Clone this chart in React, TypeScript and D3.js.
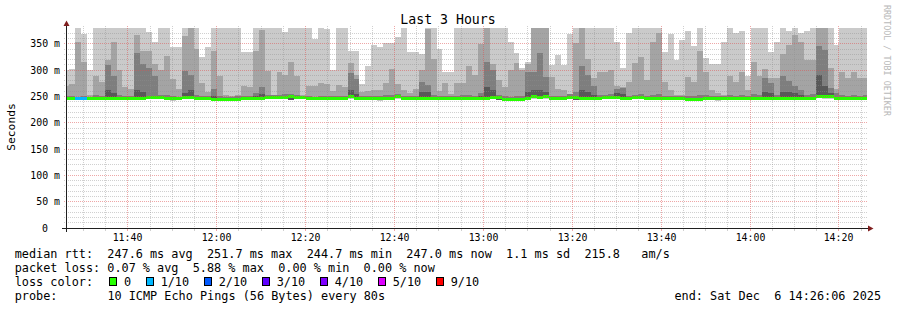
import React from 'react';
import * as d3 from 'd3';

// ---------- data (Smokeping: 10 ICMP pings every 80 s, sorted ping values per step) ----------
const FIRST_STEP = new Date(2025, 11, 6, 11, 25, 28);
const STEP_SEC = 80;
const START = new Date(2025, 11, 6, 11, 26, 6);
const END = new Date(2025, 11, 6, 14, 26, 6);
const Y_MAX = 380;

// slowest ping (p10)
const maxRtt = [
  300, 303, 390, 369, 300, 390, 390, 390, 390, 390,
  390, 390, 390, 390, 372, 354, 390, 390, 343, 343,
  390, 390, 390, 325, 343, 390, 390, 390, 390, 390,
  335, 335, 390, 390, 390, 390, 390, 372, 390, 390,
  390, 390, 360, 390, 379, 300, 390, 390, 337, 337,
  273, 308, 347, 343, 351, 351, 362, 390, 335, 335,
  330, 390, 390, 340, 296, 296, 390, 390, 390, 390,
  390, 390, 390, 390, 390, 354, 333, 304, 316, 390,
  390, 390, 309, 329, 309, 369, 390, 390, 390, 390,
  390, 390, 390, 354, 304, 370, 390, 390, 390, 390,
  390, 335, 369, 320, 357, 375, 345, 390, 323, 312,
  312, 354, 390, 370, 375, 288, 390, 390, 390, 335,
  354, 390, 375, 390, 370, 375, 390, 390, 390, 390,
  348, 390, 390, 390, 390, 390,
];
// 9th ping
const rtt9 = [
  270, 273, 354, 315, 252, 288, 277, 320, 354, 300,
  267, 264, 367, 337, 337, 311, 300, 327, 284, 264,
  364, 390, 340, 275, 259, 337, 288, 253, 251, 253,
  269, 267, 337, 377, 299, 252, 297, 290, 316, 288,
  252, 270, 269, 276, 274, 260, 271, 268, 313, 290,
  258, 260, 262, 262, 276, 303, 273, 263, 256, 264,
  300, 378, 322, 260, 275, 255, 275, 275, 308, 290,
  350, 390, 312, 282, 267, 300, 314, 300, 311, 390,
  390, 390, 286, 265, 263, 255, 352, 390, 322, 285,
  297, 297, 300, 270, 268, 278, 313, 324, 282, 354,
  370, 278, 262, 253, 253, 286, 278, 337, 296, 262,
  256, 253, 289, 278, 297, 262, 316, 288, 302, 285,
  285, 331, 348, 367, 354, 320, 320, 390, 390, 304,
  264, 296, 285, 296, 285, 285,
];
// 8th ping
const rtt8 = [
  250, 250, 249, 251, 249, 252, 251, 309, 288, 252,
  250, 251, 333, 311, 304, 288, 253, 252, 250, 249,
  299, 291, 252, 251, 250, 264, 250, 249, 249, 250,
  251, 250, 256, 267, 253, 252, 253, 254, 255, 252,
  251, 250, 249, 251, 250, 250, 251, 251, 294, 283,
  250, 250, 251, 250, 252, 253, 254, 251, 250, 251,
  278, 272, 253, 250, 251, 250, 251, 252, 253, 251,
  256, 316, 300, 253, 250, 249, 250, 251, 297, 297,
  333, 286, 251, 250, 250, 254, 258, 307, 291, 269,
  252, 253, 255, 265, 266, 251, 253, 254, 251, 252,
  254, 251, 250, 250, 250, 251, 250, 253, 252, 250,
  250, 250, 252, 251, 253, 251, 254, 253, 285, 275,
  252, 288, 280, 269, 263, 253, 254, 345, 338, 266,
  256, 252, 251, 252, 251, 252,
];
// 7th ping
const rtt7 = [
  248, 248, 248, 248, 248, 248, 248, 262, 256, 248,
  248, 248, 262, 258, 251, 250, 250, 248, 248, 248,
  256, 262, 248, 248, 248, 250, 247, 247, 247, 247,
  248, 248, 250, 255, 251, 251, 250, 251, 251, 250,
  249, 248, 248, 248, 248, 248, 248, 249, 262, 255,
  248, 248, 248, 248, 248, 249, 251, 248, 248, 248,
  258, 258, 248, 248, 248, 248, 248, 248, 249, 248,
  250, 268, 262, 250, 247, 246, 246, 247, 258, 262,
  262, 258, 248, 248, 248, 251, 251, 262, 258, 252,
  248, 250, 251, 256, 255, 248, 251, 250, 248, 248,
  249, 248, 248, 248, 248, 247, 246, 247, 248, 248,
  248, 248, 249, 248, 248, 248, 249, 249, 258, 256,
  249, 258, 258, 256, 253, 249, 249, 291, 270, 256,
  249, 248, 248, 248, 248, 248,
];
// median rtt
const medianRtt = [
  247.2, 247.0, 246.8, 247.1, 247.3, 246.9, 247.0, 247.2, 247.5, 247.1,
  246.8, 247.4, 247.9, 247.6, 249.3, 249.0, 248.7, 247.6, 246.4, 247.0,
  249.0, 248.8, 247.5, 247.2, 247.0, 245.6, 245.2, 244.9, 245.3, 245.8,
  246.8, 247.1, 247.5, 247.9, 249.2, 249.6, 248.9, 249.4, 250.1, 249.0,
  248.6, 247.4, 247.0, 247.3, 246.9, 247.1, 247.6, 247.8, 250.2, 247.5,
  247.0, 246.8, 247.2, 246.6, 247.3, 247.1, 250.0, 247.4, 247.0, 246.7,
  247.6, 247.9, 247.3, 247.0, 246.8, 247.2, 247.5, 247.1, 246.9, 247.3,
  247.6, 247.8, 249.1, 248.8, 245.9, 245.3, 245.0, 245.5, 246.1, 250.0,
  249.8, 250.4, 247.4, 247.0, 247.2, 249.5, 249.2, 247.6, 247.3, 246.9,
  247.2, 249.0, 249.3, 248.7, 247.4, 247.1, 249.6, 249.2, 247.5, 247.0,
  247.3, 247.6, 246.9, 247.1, 247.4, 245.3, 244.7, 245.1, 247.0, 247.4,
  246.8, 247.1, 247.5, 246.9, 247.2, 247.6, 247.0, 247.3, 247.8, 247.1,
  246.9, 247.4, 247.2, 247.6, 247.0, 247.3, 247.5, 251.7, 251.2, 250.3,
  247.4, 247.1, 247.3, 247.0, 247.2, 247.0,
];
// 4th ping
const rtt4 = [
  246.2, 246.0, 245.8, 246.1, 246.3, 245.9, 246.0, 246.2, 246.5, 246.1,
  245.8, 246.4, 246.9, 246.6, 248.3, 248.0, 247.7, 246.6, 242.6, 243.4,
  248.0, 247.8, 246.5, 246.2, 246.0, 244.6, 244.2, 242.3, 244.3, 244.8,
  245.8, 246.1, 246.5, 246.9, 248.2, 248.6, 247.9, 248.4, 243.0, 248.0,
  247.6, 246.4, 246.0, 246.3, 245.9, 246.1, 246.6, 246.8, 249.2, 246.5,
  246.0, 245.8, 246.2, 242.4, 246.3, 246.1, 249.0, 246.4, 246.0, 245.7,
  246.6, 246.9, 246.3, 246.0, 245.8, 246.2, 246.5, 246.1, 245.9, 246.3,
  246.6, 246.8, 248.1, 242.9, 244.9, 244.3, 244.0, 244.5, 245.1, 249.0,
  248.8, 249.4, 246.4, 246.0, 246.2, 248.5, 243.1, 246.6, 246.3, 245.9,
  246.2, 248.0, 248.3, 247.7, 246.4, 246.1, 248.6, 248.2, 246.5, 246.0,
  246.3, 246.6, 245.9, 246.1, 246.4, 244.3, 243.7, 244.1, 246.0, 246.4,
  242.4, 246.1, 246.5, 242.8, 243.2, 246.6, 246.0, 246.3, 246.8, 246.1,
  245.9, 246.4, 246.2, 246.6, 246.0, 246.3, 246.5, 247.0, 246.5, 249.3,
  246.4, 246.1, 246.3, 246.0, 246.2, 246.0,
];
// 2nd ping
const rtt2 = [
  245.4, 245.2, 244.9, 245.1, 245.6, 245.3, 245.1, 245.5, 245.8, 245.2,
  245.0, 245.4, 245.9, 245.4, 246.4, 246.1, 245.8, 244.9, 243.5, 244.0,
  246.1, 246.2, 245.4, 245.1, 244.9, 243.9, 243.4, 243.0, 243.6, 244.1,
  244.9, 245.2, 245.5, 245.8, 246.5, 246.7, 246.1, 246.5, 243.8, 246.0,
  245.8, 245.2, 245.0, 245.4, 244.9, 245.1, 245.6, 245.9, 247.4, 245.3,
  245.1, 244.8, 245.2, 243.3, 245.3, 245.0, 247.0, 245.4, 244.8, 244.6,
  245.3, 245.7, 245.2, 244.9, 244.6, 245.1, 245.5, 245.0, 244.8, 245.2,
  245.5, 245.8, 247.0, 243.6, 244.0, 243.6, 243.2, 243.8, 244.3, 247.1,
  246.9, 247.3, 245.3, 244.9, 245.2, 246.6, 243.6, 245.4, 245.0, 244.7,
  245.1, 246.9, 247.1, 246.4, 245.2, 245.0, 247.1, 246.8, 245.4, 245.0,
  245.2, 245.5, 244.8, 245.1, 245.3, 243.6, 243.0, 243.5, 244.9, 245.3,
  243.3, 245.0, 245.3, 243.6, 243.9, 245.4, 244.9, 245.2, 245.6, 245.0,
  244.8, 245.3, 245.1, 245.5, 244.9, 245.2, 245.4, 248.0, 247.6, 246.8,
  245.3, 245.0, 245.2, 244.9, 245.1, 245.0,
];
// fastest ping (p1)
const minRtt = [
  244.2, 244.0, 243.6, 243.8, 244.4, 244.1, 243.9, 244.3, 244.5, 244.0,
  243.8, 244.2, 244.6, 244.1, 244.8, 244.5, 244.3, 243.5, 242.2, 242.8,
  244.6, 244.9, 244.2, 243.9, 243.7, 242.6, 242.2, 241.8, 242.4, 242.9,
  243.7, 244.0, 244.3, 244.5, 245.0, 245.3, 244.8, 245.1, 242.5, 244.6,
  244.4, 244.0, 243.8, 244.2, 243.6, 243.9, 244.4, 244.6, 245.6, 244.1,
  243.9, 243.5, 244.0, 242.0, 244.1, 243.8, 245.4, 244.2, 243.6, 243.4,
  244.1, 244.5, 244.0, 243.7, 243.4, 243.9, 244.3, 243.8, 243.6, 244.0,
  244.3, 244.6, 245.5, 242.4, 242.8, 242.4, 241.9, 242.5, 243.1, 245.4,
  245.1, 245.5, 244.1, 243.7, 244.0, 244.9, 242.3, 244.2, 243.8, 243.5,
  243.9, 245.3, 245.6, 244.9, 244.0, 243.8, 245.4, 245.1, 244.2, 243.8,
  244.0, 244.3, 243.6, 243.9, 244.1, 242.3, 241.8, 242.2, 243.7, 244.1,
  242.0, 243.8, 244.1, 242.3, 242.6, 244.2, 243.7, 244.0, 244.4, 243.8,
  243.6, 244.1, 243.9, 244.3, 243.7, 244.0, 244.2, 246.4, 246.0, 245.3,
  244.1, 243.8, 244.0, 243.7, 243.9, 243.8,
];
// lost pings per step (of 10)
const lossCount = [
  0, 0, 1, 1, 0, 0, 0, 0, 0, 0, 0, 0, 0, 0, 0, 0, 0, 0, 0, 0,
  0, 0, 0, 0, 0, 0, 0, 0, 0, 0, 0, 0, 0, 0, 0, 0, 0, 0, 0, 0,
  0, 0, 0, 0, 0, 0, 0, 0, 0, 0, 0, 0, 0, 0, 0, 0, 0, 0, 0, 0,
  0, 0, 0, 0, 0, 0, 0, 0, 0, 0, 0, 0, 0, 0, 0, 0, 0, 0, 0, 0,
  0, 0, 0, 0, 0, 0, 0, 0, 0, 0, 0, 0, 0, 0, 0, 0, 0, 0, 0, 0,
  0, 0, 0, 0, 0, 0, 0, 0, 0, 0, 0, 0, 0, 0, 0, 0, 0, 0, 0, 0,
  0, 0, 0, 0, 0, 0, 0, 0, 0, 0, 0, 0, 0, 0, 0, 0,
];

const lossThresholds = [0, 1, 2, 3, 4, 5, 9];
const lossLabels = ['0', '1/10', '2/10', '3/10', '4/10', '5/10', '9/10'];
const lossColors = ['#26ff00', '#00b8ff', '#0059ff', '#5e00ff', '#7e00ff', '#dd00ff', '#ff0000'];

const yTickValues = [0, 50, 100, 150, 200, 250, 300, 350];
const yTickLabels = ['0', '50 m', '100 m', '150 m', '200 m', '250 m', '300 m', '350 m'];
const xTickLabels = ['11:40', '12:00', '12:20', '12:40', '13:00', '13:20', '13:40', '14:00', '14:20'];

const title = 'Last 3 Hours';
const yTitle = 'Seconds';
const legendRows = [
  'median rtt:  247.6 ms avg  251.7 ms max  244.7 ms min  247.0 ms now  1.1 ms sd  215.8   am/s',
  'packet loss: 0.07 % avg  5.88 % max  0.00 % min  0.00 % now',
];
const lossLegendTitle = 'loss color:';
const probeLabel = 'probe:';
const probeText = '10 ICMP Echo Pings (56 Bytes) every 80s';
const endText = 'end: Sat Dec  6 14:26:06 2025';
const watermark = 'RRDTOOL / TOBI OETIKER';

// smoke shades: [low series, high series, colour]
const smokeLayers: [number[], number[], string][] = [
  [minRtt, maxRtt, '#cacaca'],
  [rtt2, rtt9, '#a4a4a4'],
  [rtt4, rtt8, '#7e7e7e'],
  [rtt4, rtt7, '#585858'],
];

const FONT = "'DejaVu Sans Mono', monospace";
const X0 = 66, X1 = 866, Y0 = 228, Y1 = 28;
const CH = 7.13; // legend char advance

function lossColor(n: number) {
  let idx = 0;
  lossThresholds.forEach((t, i) => { if (n >= t) idx = i; });
  return lossColors[idx];
}

export default function App() {
  const x = d3.scaleTime().domain([START, END]).range([X0, X1]);
  const y = d3.scaleLinear().domain([0, Y_MAX]).range([Y0, Y1]);

  const stepEdges = d3.range(maxRtt.length + 1).map(i =>
    Math.round(x(new Date(FIRST_STEP.getTime() + i * STEP_SEC * 1000))));

  const minorColor = 'rgba(143,143,143,0.42)';
  const majorColor = 'rgba(222,79,79,0.5)';

  // grid
  const hMinor = d3.range(10, Y_MAX, 10).filter(v => v % 50 !== 0);
  const hMajor = yTickValues.filter(v => v > 0);
  const t5 = d3.timeMinute.every(5)!.range(START, END);
  const vMinor = t5.filter(t => t.getMinutes() % 20 !== 0);
  const vMajor = t5.filter(t => t.getMinutes() % 20 === 0);

  const py = (v: number) => Math.floor(y(v)) + 0.5;
  const px = (t: Date) => Math.floor(x(t)) + 0.5;

  // legend boxes layout
  let bx = 109;
  const lossItems = lossLabels.map((lab, i) => {
    const item = { bx, tx: bx + 15, lab, col: lossColors[i] };
    bx = bx + 15 + lab.length * CH + 14.5;
    return item;
  });

  return (
    <div style={{ position: 'absolute', left: 0, top: 0 }}>
      <svg width={897} height={310} style={{ display: 'block', background: '#fff' }}
        fontFamily={FONT}>
        <defs>
          <clipPath id="plot">
            <rect x={X0 + 1} y={Y1} width={X1 - X0} height={Y0 - Y1} />
          </clipPath>
        </defs>
        <rect x={0} y={0} width={897} height={310} fill="#fff" />

        {/* smoke */}
        <g clipPath="url(#plot)" shapeRendering="crispEdges">
          {smokeLayers.map(([lo, hi, col], li) => (
            <g key={li} fill={col}>
              {hi.map((h, i) => {
                const yt = Math.round(y(Math.min(h, Y_MAX + 5)));
                const yb = Math.round(y(lo[i]));
                if (yb - yt <= 0) return null;
                return <rect key={i} x={stepEdges[i]} width={stepEdges[i + 1] - stepEdges[i]}
                  y={yt} height={yb - yt} />;
              })}
            </g>
          ))}
          {/* median, coloured by loss */}
          {medianRtt.map((m, i) => {
            const yc = Math.round(y(m));
            return <rect key={i} x={stepEdges[i]} width={stepEdges[i + 1] - stepEdges[i]}
              y={yc - 1} height={3} fill={lossColor(lossCount[i])} />;
          })}
        </g>

        {/* grid */}
        <g strokeWidth={1} fill="none" shapeRendering="crispEdges">
          {hMinor.map(v => (
            <g key={'hm' + v} stroke={minorColor}>
              <line x1={X0 - 2} x2={X1 + 2} y1={py(v)} y2={py(v)} strokeDasharray="1,1" />
            </g>
          ))}
          {vMinor.map(t => (
            <g key={'vm' + t.getTime()} stroke={minorColor}>
              <line x1={px(t)} x2={px(t)} y1={Y1 - 2} y2={Y0} strokeDasharray="1,1" />
              <line x1={px(t)} x2={px(t)} y1={Y0 + 1} y2={Y0 + 3} />
            </g>
          ))}
          {hMajor.map(v => (
            <g key={'hM' + v} stroke={majorColor}>
              <line x1={X0 - 2} x2={X1 + 2} y1={py(v)} y2={py(v)} strokeDasharray="1,1" />
            </g>
          ))}
          {vMajor.map(t => (
            <g key={'vM' + t.getTime()} stroke={majorColor}>
              <line x1={px(t)} x2={px(t)} y1={Y1 - 2} y2={Y0} strokeDasharray="1,1" />
              <line x1={px(t)} x2={px(t)} y1={Y0 + 1} y2={Y0 + 3} />
            </g>
          ))}
        </g>

        {/* axes */}
        <g stroke="#1f1f1f" strokeWidth={1} shapeRendering="crispEdges">
          <line x1={X0 - 4} x2={X1 + 4} y1={Y0 + 0.5} y2={Y0 + 0.5} />
          <line x1={X0 + 0.5} x2={X0 + 0.5} y1={Y0 + 4} y2={Y1 - 4} />
        </g>
        <path d={`M${X1 + 2},${Y0 - 2.5}L${X1 + 2},${Y0 + 3.5}L${X1 + 7.5},${Y0 + 0.5}Z`} fill="#801f1f" />
        <path d={`M${X0 - 2.5},${Y1 - 2}L${X0 + 3.5},${Y1 - 2}L${X0 + 0.5},${Y1 - 7.5}Z`} fill="#801f1f" />

        {/* y tick labels */}
        <g fontSize={9.9} fill="#000" textAnchor="end">
          {yTickValues.map((v, i) => (
            <text key={v} x={v === 0 ? X0 - 18 : X0 - 6} y={py(v) + 3.2}>{yTickLabels[i]}</text>
          ))}
        </g>
        {/* x tick labels */}
        <g fontSize={9.9} fill="#000" textAnchor="middle">
          {vMajor.map((t, i) => (
            <text key={i} x={px(t)} y={241}>{xTickLabels[i]}</text>
          ))}
        </g>

        {/* titles */}
        <text x={448} y={24} fontSize={13.2} textAnchor="middle" fill="#000">{title}</text>
        <text transform="translate(14.5,127) rotate(-90)" fontSize={11.3} textAnchor="middle" fill="#000">{yTitle}</text>
        <text transform="translate(884,5) rotate(90)" fontSize={8.4} fill="#b8b8b8">{watermark}</text>

        {/* legend */}
        <g fontSize={11.84} fill="#000" style={{ whiteSpace: 'pre' }}>
          <text x={14.7} y={258} xmlSpace="preserve">{legendRows[0]}</text>
          <text x={14.7} y={272} xmlSpace="preserve">{legendRows[1]}</text>
          <text x={14.7} y={286} xmlSpace="preserve">{lossLegendTitle}</text>
          {lossItems.map((it, i) => (
            <g key={i}>
              <rect x={it.bx + 0.5} y={277.5} width={7} height={8} fill={it.col} stroke="#000" strokeWidth={1} shapeRendering="crispEdges" />
              <text x={it.tx} y={286}>{it.lab}</text>
            </g>
          ))}
          <text x={14.7} y={300} xmlSpace="preserve">{probeLabel}</text>
          <text x={14.7 + 13 * CH} y={300} xmlSpace="preserve">{probeText}</text>
          <text x={881} y={300} textAnchor="end" xmlSpace="preserve">{endText}</text>
        </g>
      </svg>
    </div>
  );
}
